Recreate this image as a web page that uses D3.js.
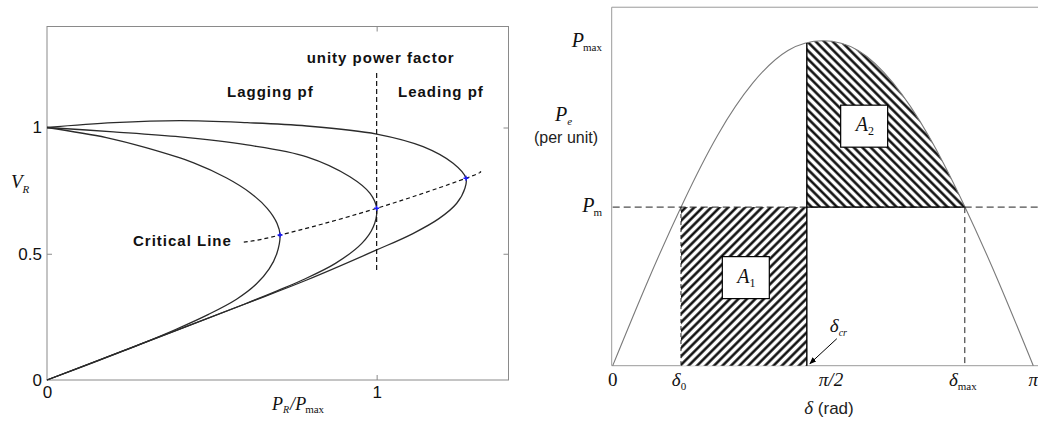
<!DOCTYPE html>
<html>
<head>
<meta charset="utf-8">
<script src="https://cdn.jsdelivr.net/npm/d3@7"></script>
<style>
  body { margin: 0; background: #fff; }
  svg { display: block; }
  .sans { font-family: "Liberation Sans", Arial, sans-serif; }
  .serif { font-family: "Liberation Serif", "Times New Roman", serif; }
</style>
</head>
<body>
<svg id="chart" width="1038" height="423"></svg>
<script>
// ---- left panel data: [P_R/P_max, V_R] along each curve ----
const leadingCurve = [
  [0, 1], [0.202, 1.019], [0.404, 1.027], [0.607, 1.019], [0.788, 1.006], [1.0, 0.974],
  [1.141, 0.924], [1.232, 0.858], [1.271, 0.799], [1.268, 0.76], [1.243, 0.70],
  [1.19, 0.64], [1.11, 0.58], [1.0, 0.515], [0.788, 0.396], [0.607, 0.304], [0.303, 0.152], [0, 0]
];
const unityCurve = [
  [0, 1], [0.202, 0.983], [0.404, 0.963], [0.607, 0.931], [0.788, 0.884], [0.919, 0.805],
  [0.980, 0.739], [1.0, 0.680], [0.99, 0.607], [0.955, 0.541], [0.875, 0.462],
  [0.775, 0.396], [0.70, 0.354], [0.598, 0.30], [0.30, 0.15], [0, 0]
];
const laggingCurve = [
  [0, 1], [0.18, 0.96], [0.30, 0.92], [0.445, 0.86], [0.545, 0.80], [0.618, 0.74],
  [0.668, 0.68], [0.698, 0.62], [0.707, 0.574], [0.697, 0.50], [0.674, 0.44],
  [0.635, 0.38], [0.575, 0.32], [0.49, 0.26], [0.39, 0.20], [0.28, 0.14], [0.142, 0.07], [0, 0]
];
const criticalLine = [[0.597, 0.546], [0.707, 0.574], [1.0, 0.680], [1.271, 0.799], [1.313, 0.825]];
const nosePoints = [[0.707, 0.574], [1.0, 0.680], [1.271, 0.799]];
const unityLine = [[1, 0.436], [1, 1.226]];
const leftXTicks = [0, 1];
const leftYTicks = [0, 0.5, 1];

// ---- right panel data: power-angle curve ----
const deltaValues = [0, 0.262, 0.524, 0.785, 1.047, 1.309, 1.571, 1.833, 2.094, 2.356, 2.618, 2.880, 3.1416];
const powerValues = [0, 0.26, 0.50, 0.71, 0.87, 0.97, 1.0, 0.97, 0.87, 0.71, 0.50, 0.26, 0];
const delta0 = 0.51, deltaCr = 1.45, deltaMax = 2.63, pm = 0.488;
const deltaTicks = [0, delta0, Math.PI / 2, deltaMax, Math.PI];

const svg = d3.select("#chart");
const defs = svg.append("defs");

// =============== left panel ===============
const xL = d3.scaleLinear().domain([0, 1.4]).range([47, 508.5]);
const yL = d3.scaleLinear().domain([0, 1.4]).range([380, 26.5]);
const left = svg.append("g");

left.append("rect")
    .attr("x", xL(0)).attr("y", yL(1.4))
    .attr("width", xL(1.4) - xL(0)).attr("height", yL(0) - yL(1.4))
    .attr("fill", "none").attr("stroke", "#8a8a8a").attr("stroke-width", 1);

// inward ticks on all four sides, labels on left and bottom
function styleAxis(g) {
  g.select(".domain").remove();
  g.selectAll(".tick line").attr("stroke", "#8a8a8a");
  g.selectAll("text").attr("class", "sans").attr("font-size", 17).attr("fill", "#111");
}
left.append("g").attr("transform", `translate(${xL(0)},0)`)
    .call(d3.axisLeft(yL).tickValues(leftYTicks).tickSize(-5).tickPadding(5).tickFormat(d3.format("")))
    .call(styleAxis);
left.append("g").attr("transform", `translate(${xL(1.4)},0)`)
    .call(d3.axisRight(yL).tickValues(leftYTicks).tickSize(-5).tickFormat(""))
    .call(styleAxis);
left.append("g").attr("transform", `translate(0,${yL(0)})`)
    .call(d3.axisBottom(xL).tickValues(leftXTicks).tickSize(-5).tickPadding(6).tickFormat(d3.format("")))
    .call(styleAxis);
left.append("g").attr("transform", `translate(0,${yL(1.4)})`)
    .call(d3.axisTop(xL).tickValues(leftXTicks).tickSize(-5).tickFormat(""))
    .call(styleAxis);
left.selectAll(".tick line").filter(d => d === 0).remove();

const lineL = d3.line().x(d => xL(d[0])).y(d => yL(d[1])).curve(d3.curveCatmullRom.alpha(0.5));
left.selectAll(".pv")
    .data([leadingCurve, unityCurve, laggingCurve])
  .enter().append("path")
    .attr("class", "pv")
    .attr("d", lineL)
    .attr("fill", "none").attr("stroke", "#2b2b2b").attr("stroke-width", 1.3);

left.append("path")
    .attr("d", d3.line().x(d => xL(d[0])).y(d => yL(d[1]))(unityLine))
    .attr("stroke", "#111").attr("stroke-width", 1.2).attr("stroke-dasharray", "5,3");

left.append("path")
    .attr("d", d3.line().x(d => xL(d[0])).y(d => yL(d[1])).curve(d3.curveNatural)(criticalLine))
    .attr("fill", "none").attr("stroke", "#111").attr("stroke-width", 1.2).attr("stroke-dasharray", "4,3");

left.selectAll(".nose")
    .data(nosePoints)
  .enter().append("path")
    .attr("class", "nose")
    .attr("transform", d => `translate(${xL(d[0])},${yL(d[1])})`)
    .attr("d", "M-2.5,0H2.5M0,-2.5V2.5")
    .attr("stroke", "#1a1aff").attr("stroke-width", 1.4);

const boldLabels = [
  { text: "unity power factor", x: xL(1) + 4, y: 63, anchor: "middle" },
  { text: "Lagging pf", x: 227, y: 97, anchor: "start" },
  { text: "Leading pf", x: 398, y: 97, anchor: "start" },
  { text: "Critical Line", x: 133, y: 246, anchor: "start" }
];
left.selectAll(".blabel")
    .data(boldLabels)
  .enter().append("text")
    .attr("class", "sans")
    .attr("x", d => d.x).attr("y", d => d.y)
    .attr("text-anchor", d => d.anchor)
    .attr("font-size", 15).attr("font-weight", "bold").attr("letter-spacing", 1)
    .attr("fill", "#111")
    .text(d => d.text);

// axis titles
const vr = left.append("text").attr("class", "serif").attr("x", 11).attr("y", 188).attr("fill", "#111");
vr.append("tspan").attr("font-style", "italic").attr("font-size", 19).text("V");
vr.append("tspan").attr("font-style", "italic").attr("font-size", 11).attr("dy", 5).text("R");

const pr = left.append("text").attr("class", "serif").attr("x", 272).attr("y", 410).attr("fill", "#111");
pr.append("tspan").attr("font-style", "italic").attr("font-size", 18).text("P");
pr.append("tspan").attr("font-style", "italic").attr("font-size", 10).attr("dy", 3).text("R");
pr.append("tspan").attr("font-style", "italic").attr("font-size", 18).attr("dy", -3).attr("dx", 1).text("/");
pr.append("tspan").attr("font-style", "italic").attr("font-size", 18).text("P");
pr.append("tspan").attr("font-size", 11).attr("dy", 3).attr("dx", -1).text("max");

// =============== right panel ===============
const xR = d3.scaleLinear().domain([0, Math.PI]).range([612.7, 1033.3]);
const yR = d3.scaleLinear().domain([0, 1]).range([365.7, 40.7]);
const right = svg.append("g");
const sinePts = deltaValues.map((d, i) => [d, powerValues[i]]);

// frame: left, top and bottom lines
right.append("path")
    .attr("d", `M1038,${yR(1.103)}H${xR(0) - 1}V${yR(0)}H1038`)
    .attr("fill", "none").attr("stroke", "#9a9a9a").attr("stroke-width", 1);

// hatch patterns
function hatch(id, angle) {
  const p = defs.append("pattern")
      .attr("id", id).attr("patternUnits", "userSpaceOnUse")
      .attr("width", 6).attr("height", 6)
      .attr("patternTransform", `rotate(${angle})`);
  p.append("rect").attr("width", 6).attr("height", 6).attr("fill", "#fff");
  p.append("line").attr("x1", 1.5).attr("x2", 1.5).attr("y1", 0).attr("y2", 6)
      .attr("stroke", "#000").attr("stroke-width", 2.4);
}
hatch("hatchA1", 45);
hatch("hatchA2", -45);

const areaUnder = d3.area().x(d => xR(d[0])).y0(yR(0)).y1(d => yR(d[1])).curve(d3.curveNatural);
defs.append("clipPath").attr("id", "underCurve")
  .append("path").attr("d", areaUnder(sinePts));

// A1 region
right.append("rect")
    .attr("x", xR(delta0)).attr("y", yR(pm))
    .attr("width", xR(deltaCr) - xR(delta0)).attr("height", yR(0) - yR(pm))
    .attr("fill", "url(#hatchA1)");
// A2 region
right.append("rect")
    .attr("x", xR(deltaCr)).attr("y", yR(1.1))
    .attr("width", xR(deltaMax) - xR(deltaCr)).attr("height", yR(pm) - yR(1.1))
    .attr("fill", "url(#hatchA2)")
    .attr("clip-path", "url(#underCurve)");

// power-angle curve
right.append("path")
    .attr("d", d3.line().x(d => xR(d[0])).y(d => yR(d[1])).curve(d3.curveNatural)(sinePts))
    .attr("fill", "none").attr("stroke", "#7a7a7a").attr("stroke-width", 1.1);

// Pm line and guide lines
right.append("line")
    .attr("x1", xR(0)).attr("x2", 1038).attr("y1", yR(pm)).attr("y2", yR(pm))
    .attr("stroke", "#222").attr("stroke-width", 1).attr("stroke-dasharray", "7,4");
right.append("line")
    .attr("x1", xR(deltaCr)).attr("x2", xR(deltaMax)).attr("y1", yR(pm)).attr("y2", yR(pm))
    .attr("stroke", "#000").attr("stroke-width", 1.2);
right.append("line")
    .attr("x1", xR(deltaMax)).attr("x2", xR(deltaMax)).attr("y1", yR(pm)).attr("y2", yR(0))
    .attr("stroke", "#222").attr("stroke-width", 1).attr("stroke-dasharray", "6,4");
right.append("line")
    .attr("x1", xR(delta0)).attr("x2", xR(delta0)).attr("y1", yR(pm)).attr("y2", yR(0))
    .attr("stroke", "#222").attr("stroke-width", 1).attr("stroke-dasharray", "4,3");
right.append("line")
    .attr("x1", xR(deltaCr)).attr("x2", xR(deltaCr)).attr("y1", yR(0.993)).attr("y2", yR(0))
    .attr("stroke", "#000").attr("stroke-width", 1.4);

// area label boxes
const areaBoxes = [
  { name: "A", sub: "1", d: 0.998, p: 0.271 },
  { name: "A", sub: "2", d: 1.882, p: 0.737 }
];
const box = right.selectAll(".abox").data(areaBoxes).enter().append("g")
    .attr("class", "abox")
    .attr("transform", d => `translate(${xR(d.d)},${yR(d.p)})`);
box.append("rect").attr("x", -24).attr("y", -21).attr("width", 47).attr("height", 42)
    .attr("fill", "#fff").attr("stroke", "#000").attr("stroke-width", 1.2);
const bt = box.append("text").attr("class", "serif").attr("x", -9).attr("y", 5).attr("fill", "#111");
bt.append("tspan").attr("font-style", "italic").attr("font-size", 20).text(d => d.name);
bt.append("tspan").attr("font-size", 12).attr("dy", 4).text(d => d.sub);

// delta_cr arrow
defs.append("marker").attr("id", "arrow").attr("viewBox", "0 0 10 10")
    .attr("refX", 9).attr("refY", 5).attr("markerWidth", 7).attr("markerHeight", 7)
    .attr("orient", "auto")
  .append("path").attr("d", "M0,1L10,5L0,9Z").attr("fill", "#000");
right.append("line")
    .attr("x1", xR(deltaCr) + 30).attr("y1", yR(0) - 27)
    .attr("x2", xR(deltaCr) + 3).attr("y2", yR(0) - 2)
    .attr("stroke", "#000").attr("stroke-width", 1).attr("marker-end", "url(#arrow)");
const dcr = right.append("text").attr("class", "serif").attr("x", xR(deltaCr) + 23).attr("y", yR(0) - 34).attr("fill", "#111");
dcr.append("tspan").attr("font-style", "italic").attr("font-size", 19).text("δ");
dcr.append("tspan").attr("font-style", "italic").attr("font-size", 10).attr("dy", 4).text("cr");

// x tick labels
const xTickText = [
  { main: "0", sub: "", italic: false, dx: 0 },
  { main: "δ", sub: "0", italic: true, dx: -2 },
  { main: "π/2", sub: "", italic: true, dx: 8 },
  { main: "δ", sub: "max", italic: true, dx: -2 },
  { main: "π", sub: "", italic: true, dx: 0 }
];
const xt = right.selectAll(".xt").data(deltaTicks).enter().append("text")
    .attr("class", "serif")
    .attr("x", (d, i) => xR(d) + xTickText[i].dx).attr("y", 386)
    .attr("text-anchor", "middle").attr("fill", "#111");
xt.append("tspan").attr("font-size", 19)
    .attr("font-style", (d, i) => xTickText[i].italic ? "italic" : "normal")
    .text((d, i) => xTickText[i].main);
xt.append("tspan").attr("font-size", 11).attr("dy", 4)
    .text((d, i) => xTickText[i].sub);

const dl = right.append("text").attr("x", 829).attr("y", 414).attr("text-anchor", "middle").attr("fill", "#222");
dl.append("tspan").attr("class", "serif").attr("font-style", "italic").attr("font-size", 19).text("δ");
dl.append("tspan").attr("class", "sans").attr("font-size", 17).text(" (rad)");

// y labels
const yLabels = [
  { sub: "max", p: 1, dy: 6 },
  { sub: "m", p: pm, dy: 5 }
];
const yt = right.selectAll(".yt").data(yLabels).enter().append("text")
    .attr("class", "serif").attr("x", 602).attr("y", d => yR(d.p) + d.dy)
    .attr("text-anchor", "end").attr("fill", "#111");
yt.append("tspan").attr("font-style", "italic").attr("font-size", 20).text("P");
yt.append("tspan").attr("font-size", 11).attr("dy", 4).attr("dx", -1).text(d => d.sub);

const pe = right.append("text").attr("class", "serif").attr("x", 555).attr("y", 121).attr("fill", "#111");
pe.append("tspan").attr("font-style", "italic").attr("font-size", 20).text("P");
pe.append("tspan").attr("font-style", "italic").attr("font-size", 11).attr("dy", 4).text("e");
right.append("text").attr("class", "sans").attr("x", 566).attr("y", 143)
    .attr("text-anchor", "middle").attr("font-size", 16).attr("fill", "#222")
    .text("(per unit)");
</script>
</body>
</html>
